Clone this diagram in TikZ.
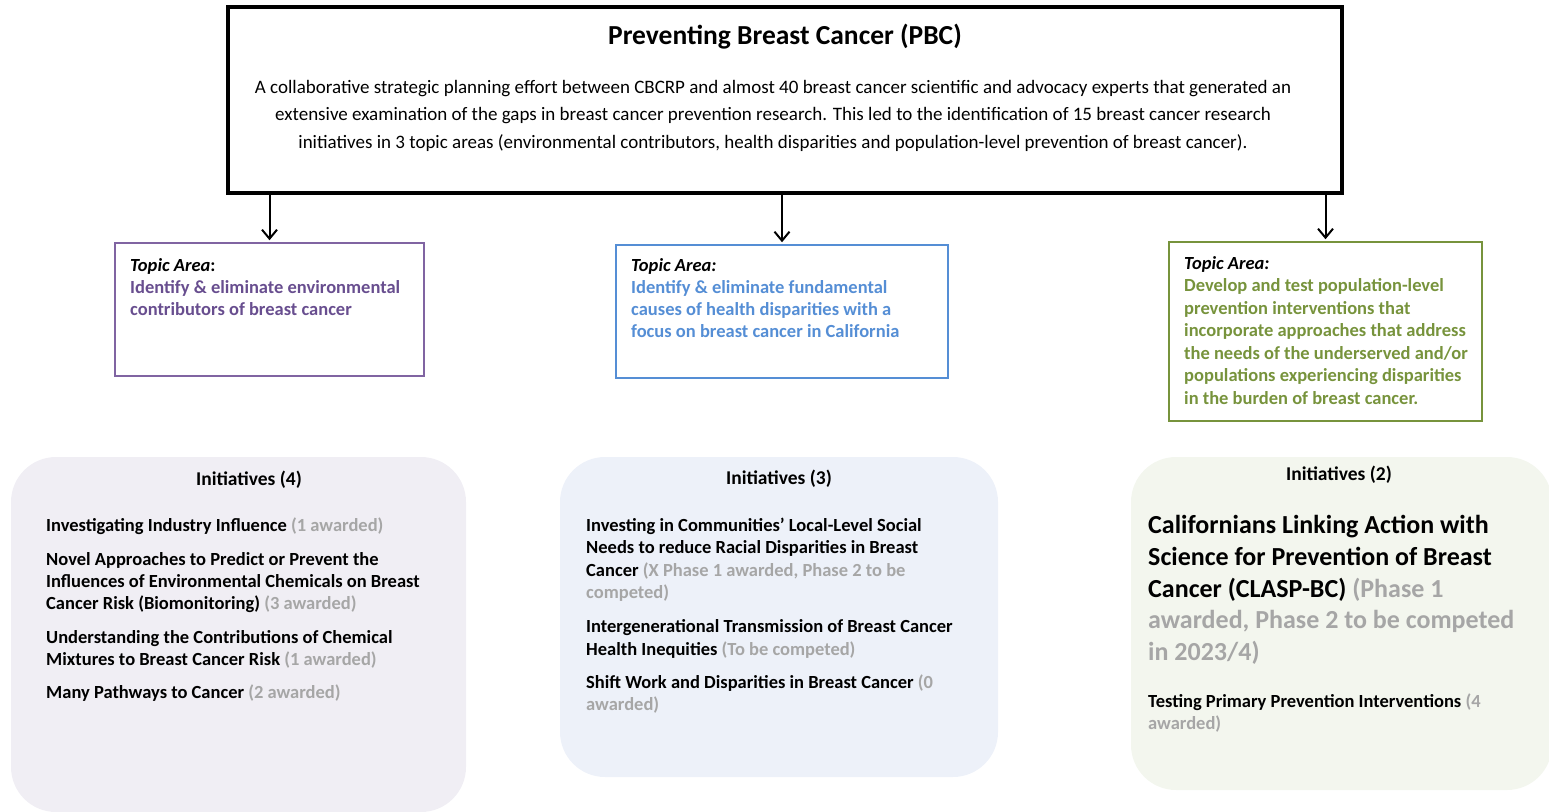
\documentclass[tikz,border=0pt]{standalone}
\usepackage{fontspec}
\setmainfont{Carlito}
\usetikzlibrary{positioning,arrows.meta}

\definecolor{purpline}{HTML}{8064A2}
\definecolor{purptext}{HTML}{684E8F}
\definecolor{blueline}{HTML}{558ED5}
\definecolor{greenline}{HTML}{77933C}
\definecolor{awardgray}{HTML}{A6A6A6}
\definecolor{purpfill}{HTML}{F0EEF4}
\definecolor{bluefill}{HTML}{EDF1F9}
\definecolor{greenfill}{HTML}{F3F6EE}

\newcommand{\aw}[1]{{\color{awardgray}#1}}
\newcommand{\topichead}{\textbf{\textit{Topic Area:}}}

\begin{document}
\begin{tikzpicture}[x=1pt, y=-1pt, >={Straight Barb[length=9pt,width=15pt]},
    mainbox/.style={draw, line width=3.5pt, inner sep=0pt},
    topicbox/.style={draw, line width=2.5pt, inner sep=0pt},
    initbox/.style={rounded corners=45pt, inner sep=0pt},
    blocktext/.style={anchor=north west, inner sep=0pt, align=left, font=\fontsize{18.5}{22}\selectfont\bfseries},
    headtext/.style={inner sep=0pt, font=\fontsize{19.5}{22}\selectfont\bfseries}]
    \path[use as bounding box, clip] (0,0) rectangle (1549,811);

    % Top box
    \node[mainbox, minimum width=1114pt, minimum height=186pt] (PBC) at (785,100) {};
    \node[inner sep=0pt, font=\fontsize{27.5}{30}\selectfont\bfseries] (PBCtitle) at (785,37) {Preventing Breast Cancer (PBC)};
    \node[inner sep=0pt, align=center, font=\fontsize{19}{27.5}\selectfont] (PBCtext) at (773,115.5)
        {A collaborative strategic planning effort between CBCRP and almost 40 breast cancer scientific and advocacy experts that generated an\\
         extensive examination of the gaps in breast cancer prevention research. This led to the identification of 15 breast cancer research\\
         initiatives in 3 topic areas (environmental contributors, health disparities and population-level prevention of breast cancer).};

    % Topic areas
    \node[topicbox, draw=purpline, minimum width=309pt, minimum height=133pt] (T1) at (269.5,309.5) {};
    \node[topicbox, draw=blueline, minimum width=332pt, minimum height=133pt] (T2) at (782,311.5) {};
    \node[topicbox, draw=greenline, minimum width=313pt, minimum height=179pt] (T3) at (1325.5,331.5) {};

    \node[blocktext] (T1text) at (130,258)
        {\textbf{\textit{Topic Area}}:\\
         \color{purptext}Identify \& eliminate environmental\\
         \color{purptext}contributors of breast cancer};
    \node[blocktext] (T2text) at (631,258.5)
        {\topichead\\
         \color{blueline}Identify \& eliminate fundamental\\
         \color{blueline}causes of health disparities with a\\
         \color{blueline}focus on breast cancer in California};
    \node[blocktext, font=\fontsize{18.5}{22.5}\selectfont\bfseries] (T3text) at (1184,256)
        {\topichead\\
         \color{greenline}Develop and test population-level\\
         \color{greenline}prevention interventions that\\
         \color{greenline}incorporate approaches that address\\
         \color{greenline}the needs of the underserved and/or\\
         \color{greenline}populations experiencing disparities\\
         \color{greenline}in the burden of breast cancer.};

    % Arrows
    \foreach \t in {T1,T2,T3}
        \draw[->, line width=2pt, shorten >=1.5pt] (PBC.south -| \t.north) -- (\t.north);

    % Initiatives
    \node[initbox, fill=purpfill, minimum width=455pt, minimum height=355pt] (I1) at (238.5,634.5) {};
    \node[initbox, fill=bluefill, minimum width=438pt, minimum height=320pt] (I2) at (779,617) {};
    \node[initbox, fill=greenfill, minimum width=421pt, minimum height=333pt] (I3) at (1341.5,623.5) {};

    \node[headtext] (I1head) at (249,479.5) {Initiatives (4)};
    \node[headtext] (I2head) at (779,478.5) {Initiatives (3)};
    \node[headtext] (I3head) at (1339,474.5) {Initiatives (2)};

    \node[blocktext] (I1list) at (46,518)
        {Investigating Industry Influence \aw{(1 awarded)}\\[12pt]
         Novel Approaches to Predict or Prevent the\\
         Influences of Environmental Chemicals on Breast\\
         Cancer Risk (Biomonitoring) \aw{(3 awarded)}\\[12pt]
         Understanding the Contributions of Chemical\\
         Mixtures to Breast Cancer Risk \aw{(1 awarded)}\\[11pt]
         Many Pathways to Cancer \aw{(2 awarded)}};
    \node[blocktext, font=\fontsize{18.5}{22.5}\selectfont\bfseries] (I2list) at (586,517.5)
        {Investing in Communities’ Local-Level Social\\
         Needs to reduce Racial Disparities in Breast\\
         Cancer \aw{(X Phase 1 awarded, Phase 2 to be}\\
         \aw{competed)}\\[11.5pt]
         Intergenerational Transmission of Breast Cancer\\
         Health Inequities \aw{(To be competed)}\\[10.5pt]
         Shift Work and Disparities in Breast Cancer \aw{(0}\\
         \aw{awarded)}};
    \node[blocktext, font=\fontsize{26}{31.8}\selectfont\bfseries] (I3main) at (1148,515)
        {Californians Linking Action with\\
         Science for Prevention of Breast\\
         Cancer (CLASP-BC) \aw{(Phase 1}\\
         \aw{awarded, Phase 2 to be competed}\\
         \aw{in 2023/4)}};
    \node[blocktext] (I3list) at (1148,694)
        {Testing Primary Prevention Interventions \aw{(4}\\
         \aw{awarded)}};
\end{tikzpicture}
\end{document}
